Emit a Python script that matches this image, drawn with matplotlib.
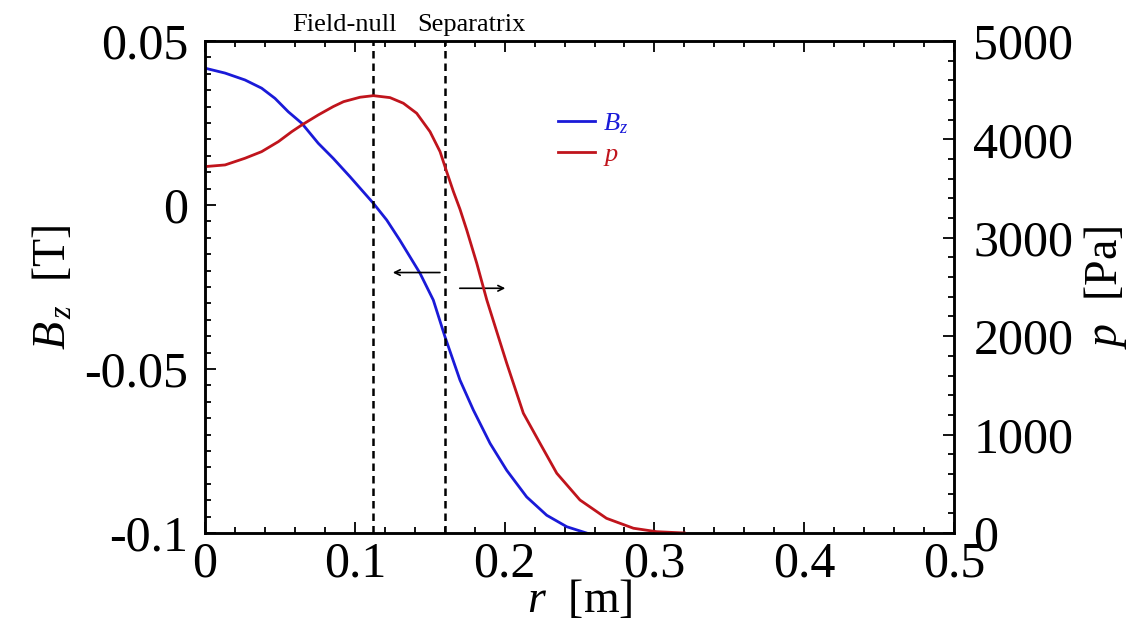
import numpy as np
import matplotlib
matplotlib.use("Agg")
import matplotlib.pyplot as plt
from matplotlib.ticker import MultipleLocator

# Bz profile [T] vs r [m]
r_bz = [0.0, 0.0134, 0.0267, 0.0378, 0.0467, 0.0556, 0.0646, 0.0756, 0.0856, 0.0968,
        0.1124, 0.1213, 0.130, 0.1435, 0.1524, 0.1602, 0.1702, 0.1791, 0.1903, 0.2014,
        0.2147, 0.2281, 0.2415, 0.2525, 0.258]
bz = [0.0417, 0.0402, 0.0381, 0.0356, 0.0325, 0.0284, 0.0249, 0.0188, 0.0142, 0.0086,
      0.0005, -0.0046, -0.0107, -0.0208, -0.0290, -0.0402, -0.0534, -0.0625, -0.0727, -0.0809,
      -0.0890, -0.0946, -0.0981, -0.0997, -0.1005]

# pressure profile [Pa]
r_p = [0.0, 0.0134, 0.0267, 0.0378, 0.049, 0.0579, 0.0646, 0.0756, 0.0856, 0.0925,
       0.1035, 0.1124, 0.1235, 0.1324, 0.1413, 0.1502, 0.1569, 0.1613, 0.1658, 0.1702,
       0.1747, 0.1814, 0.1881, 0.1958, 0.2014, 0.2125, 0.2236, 0.2348, 0.2503, 0.268,
       0.286, 0.3015, 0.317, 0.32]
p = [3723, 3740, 3808, 3875, 3977, 4078, 4146, 4248, 4333, 4383,
     4428, 4444, 4424, 4367, 4265, 4078, 3875, 3672, 3470, 3290,
     3079, 2741, 2368, 1995, 1725, 1217, 912, 607, 335, 149,
     48, 13, 2, 0]

r_null = 0.112
r_sep = 0.160

plt.rcParams["font.family"] = ["Liberation Serif", "DejaVu Serif"]
plt.rcParams["mathtext.fontset"] = "custom"
plt.rcParams["mathtext.rm"] = "Liberation Serif"
plt.rcParams["mathtext.it"] = "Liberation Serif:italic"

BLUE = "#1a1ad8"
RED = "#c0141c"
FS = 36
LFS = 33

fig = plt.figure(figsize=(11.32, 6.26), dpi=100)
ax = fig.add_axes([0.1811, 0.1486, 0.6617, 0.786])
ax2 = ax.twinx()

ax.plot(r_bz, bz, color=BLUE, lw=2.0, label=r"$B_z$")
ax2.plot(r_p, p, color=RED, lw=2.0, label=r"$p$")

for rv in (r_null, r_sep):
    ax.axvline(rv, color="black", ls=(0, (3, 2)), lw=1.8)

ax.set_xlim(0, 0.5)
ax.set_ylim(-0.1, 0.05)
ax2.set_ylim(0, 5000)

ax.xaxis.set_major_locator(MultipleLocator(0.1))
ax.xaxis.set_minor_locator(MultipleLocator(0.02))
ax.yaxis.set_major_locator(MultipleLocator(0.05))
ax.yaxis.set_minor_locator(MultipleLocator(0.005))
ax2.yaxis.set_major_locator(MultipleLocator(1000))
ax2.yaxis.set_minor_locator(MultipleLocator(200))

ax.tick_params(which="both", direction="in", top=True, right=False, labelsize=FS, width=1.3)
ax.tick_params(which="major", length=8, pad=6)
ax.tick_params(which="minor", length=4)
ax2.tick_params(which="both", direction="in", labelsize=FS, width=1.3)
ax2.tick_params(which="major", length=8, pad=14)
ax2.tick_params(which="minor", length=4)
ax.tick_params(axis="y", which="major", pad=12)

ax.set_xticks([0, 0.1, 0.2, 0.3, 0.4, 0.5])
ax.set_xticklabels(["0", "0.1", "0.2", "0.3", "0.4", "0.5"])
ax.set_yticks([-0.1, -0.05, 0, 0.05])
ax.set_yticklabels(["-0.1", "-0.05", "0", "0.05"])

for a in (ax, ax2):
    for s in a.spines.values():
        s.set_linewidth(1.8)

ax.set_xlabel(r"$r$  [m]", fontsize=LFS, labelpad=-6)
ax.set_ylabel(r"$B_{\,z}$  [T]", fontsize=LFS, labelpad=6)
ax2.set_ylabel(r"$p$  [Pa]", fontsize=LFS, labelpad=6)

# region labels above the axes
ax.text(0.0928, 1.01, "Field-null", transform=ax.get_xaxis_transform(),
        ha="center", va="bottom", fontsize=19)
ax.text(0.178, 1.01, "Separatrix", transform=ax.get_xaxis_transform(),
        ha="center", va="bottom", fontsize=19)

# arrows
ax.annotate("", xy=(0.1235, -0.0206), xytext=(0.1587, -0.0206),
            arrowprops=dict(arrowstyle="->", color="black", lw=1.2))
ax.annotate("", xy=(0.2023, -0.0254), xytext=(0.1682, -0.0254),
            arrowprops=dict(arrowstyle="->", color="black", lw=1.2))

h1, l1 = ax.get_legend_handles_labels()
h2, l2 = ax2.get_legend_handles_labels()
leg = ax2.legend(h1 + h2, l1 + l2, loc="upper left", bbox_to_anchor=(0.44, 0.905),
                 frameon=False, fontsize=19, handlelength=1.4, handletextpad=0.3,
                 labelspacing=0.25)
for txt, c in zip(leg.get_texts(), (BLUE, RED)):
    txt.set_color(c)

fig.savefig("out.png", dpi=100)
